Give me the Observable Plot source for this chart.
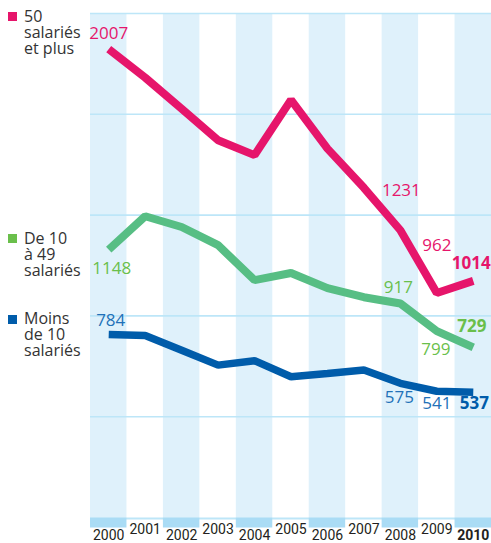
<!DOCTYPE html>
<html><head><meta charset="utf-8">
<script src="https://cdn.jsdelivr.net/npm/d3@7"></script>
<script src="https://cdn.jsdelivr.net/npm/@observablehq/plot@0.6"></script>
<style>
body{margin:0;background:#fff;}
#wrap{position:relative;width:491px;height:543px;overflow:hidden;}
.leg{position:absolute;left:8px;font-family:"Open Sans",sans-serif;font-size:16px;line-height:16px;color:#333;}
.leg .sw{position:absolute;left:0;width:9px;height:9px;}
.leg .tx{position:absolute;left:16px;top:0;white-space:nowrap;}
</style></head>
<body><div id="wrap"><div id="chart"></div></div>
<script>
const years = [2000, 2001, 2002, 2003, 2004, 2005, 2006, 2007, 2008, 2009, 2010];
const yearLabels = ["2000", "2001", "2002", "2003", "2004", "2005", "2006", "2007", "2008", "2009", "2010"];
const plus50 = [2007, 1885, 1752, 1617, 1553, 1790, 1581, 1413, 1231, 962, 1014];
const de10a49 = [1148, 1291, 1245, 1167, 1017, 1048, 983, 944, 917, 799, 729];
const moins10 = [784, 780, 717, 653, 672, 603, 617, 632, 575, 541, 537];
const legendNames = [["50", "salariés", "et plus"], ["De 10", "à 49", "salariés"], ["Moins", "de 10", "salariés"]];
const gridValues = [432, 864, 1296, 1728, 2160];

const PINK = "#e6156b", GREEN_LINE = "#57be84", GREEN_TXT = "#6abf4b", BLUE = "#005caa", BLUE_TXT = "#2271b8";
const legendColors = [PINK, GREEN_TXT, BLUE];
const legendTops = [8, 230, 310];
const swatchTops = [12, 234, 315];

const rows = years.map((yr, i) => ({year: yr, a: plus50[i], b: de10a49[i], c: moins10[i]}));
const evenYears = years.filter((d, i) => i % 2 === 0);
const evenIdx = years.map((d, i) => i).filter(i => i % 2 === 0 && i !== 10);
const oddIdx = years.map((d, i) => i).filter(i => i % 2 === 1);

const FONT = "Open Sans";
const AXFONT = "Liberation Sans Narrow, Roboto, sans-serif";

const lbl = (arr, i, color, dx, dy, bold) => Plot.text([i], {
  x: j => years[j], y: j => arr[j], text: j => String(arr[j]),
  fill: color, dx, dy, fontSize: 17, fontWeight: bold ? "bold" : "normal", fontFamily: FONT, textAnchor: "middle"
});

const chart = Plot.plot({
  width: 491, height: 543,
  marginLeft: 90, marginRight: 0, marginTop: 13, marginBottom: 26,
  x: {type: "linear", domain: [1999.5, 2010.5], axis: null},
  y: {domain: [0, 2160], axis: null},
  style: {fontFamily: FONT, background: "#fff", overflow: "visible"},
  marks: [
    Plot.rect(evenYears, {x1: d => d - 0.5, x2: d => d + 0.5, y1: 0, y2: 2160, fill: "#dff1fb"}),
    Plot.ruleY(gridValues, {stroke: "#bde6f8", strokeWidth: 1.6}),
    Plot.ruleY([0], {stroke: "#bde6f8", strokeWidth: 2, dy: 1}),
    Plot.ruleY(evenYears, {y: 0, x1: d => d - 0.5, x2: d => d + 0.5, stroke: "#aadcf5", strokeWidth: 10, dy: 5}),
    Plot.line(rows, {x: "year", y: "c", stroke: BLUE, strokeWidth: 7.5, strokeLinejoin: "miter", strokeLinecap: "butt"}),
    Plot.line(rows, {x: "year", y: "b", stroke: GREEN_LINE, strokeWidth: 8, strokeLinejoin: "miter", strokeLinecap: "butt"}),
    Plot.line(rows, {x: "year", y: "a", stroke: PINK, strokeWidth: 8, strokeLinejoin: "miter", strokeLinecap: "butt"}),
    lbl(plus50, 0, PINK, 0, -15.5, false),
    lbl(plus50, 8, PINK, 1, -39.5, false),
    lbl(plus50, 9, PINK, 0, -47.5, false),
    lbl(plus50, 10, PINK, -2, -17, true),
    lbl(de10a49, 0, GREEN_TXT, 3, 19, false),
    lbl(de10a49, 8, GREEN_TXT, -2, -16, false),
    lbl(de10a49, 9, GREEN_TXT, -1, 18.7, false),
    lbl(de10a49, 10, GREEN_TXT, -1.5, -21, true),
    lbl(moins10, 0, BLUE_TXT, 2, -14, false),
    lbl(moins10, 8, BLUE_TXT, -1, 14.5, false),
    lbl(moins10, 9, BLUE_TXT, 0, 12.5, false),
    lbl(moins10, 10, BLUE, 1, 11.6, true),
    Plot.text(oddIdx, {x: i => years[i], y: 0, text: i => yearLabels[i], dy: 11.7, fontSize: 14, fill: "#231f20", fontFamily: AXFONT}),
    Plot.text(evenIdx, {x: i => years[i], y: 0, text: i => yearLabels[i], dy: 18.5, fontSize: 14, fill: "#231f20", fontFamily: AXFONT}),
    Plot.text([10], {x: i => years[i], y: 0, text: i => yearLabels[i], dy: 18.5, fontSize: 14, fontWeight: "bold", fill: "#231f20", fontFamily: AXFONT})
  ]
});
const wrap = document.getElementById("wrap");
document.getElementById("chart").appendChild(chart);
legendNames.forEach((lines, k) => {
  const d = document.createElement("div");
  d.className = "leg";
  d.style.top = "0px";
  const sw = document.createElement("div");
  sw.className = "sw";
  sw.style.background = legendColors[k];
  sw.style.top = swatchTops[k] + "px";
  d.appendChild(sw);
  const tx = document.createElement("div");
  tx.className = "tx";
  tx.style.top = legendTops[k] + "px";
  tx.innerHTML = lines.join("<br>");
  d.appendChild(tx);
  wrap.appendChild(d);
});
</script>
</body></html>
